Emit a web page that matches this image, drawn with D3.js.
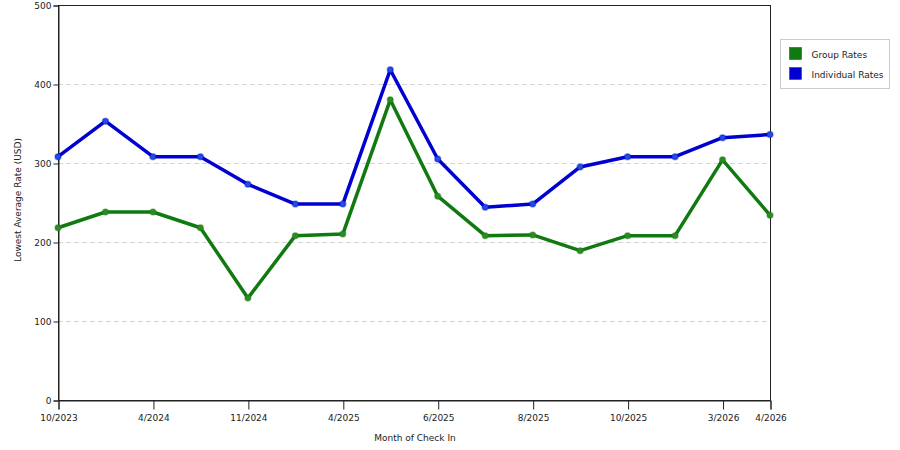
<!DOCTYPE html>
<html>
<head>
<meta charset="utf-8">
<script src="https://cdn.jsdelivr.net/npm/d3@7"></script>
<style>
  body { margin: 0; background: #fff; }
  text { font-family: "DejaVu Sans", Verdana, sans-serif; font-size: 9px; fill: #222; }
</style>
</head>
<body>
<svg id="chart" width="900" height="450"></svg>
<script>
// one entry per month on the x axis, blank ones carry no tick label
var months = ["10/2023", "", "4/2024", "", "11/2024", "", "4/2025", "", "6/2025", "", "8/2025", "", "10/2025", "", "3/2026", "4/2026"];
var groupRates = [218, 238, 238, 218, 129, 208, 210, 380, 258, 208, 209, 189, 208, 208, 304, 234];
var individualRates = [308, 353, 308, 308, 273, 248, 248, 418, 305, 244, 248, 295, 308, 308, 332, 336];
var yTicks = [0, 100, 200, 300, 400, 500];
var seriesNames = ["Group Rates", "Individual Rates"];
var seriesColors = ["#107a10", "#0000d0"];
var markerColors = ["#2f8a24", "#1f4ee0"];

var svg = d3.select("#chart");
var plotLeft = 58, plotRight = 770, plotTop = 5, plotBottom = 400;

var x = d3.scalePoint()
  .domain(d3.range(months.length))
  .range([plotLeft, plotRight]);

var y = d3.scaleLinear()
  .domain([0, 500])
  .range([plotBottom, plotTop]);

// dashed grid
svg.append("g").selectAll("line")
  .data(yTicks.filter(function(d) { return d > 0 && d < 500; }))
  .enter().append("line")
    .attr("x1", plotLeft).attr("x2", plotRight)
    .attr("y1", function(d) { return y(d) + 0.5; })
    .attr("y2", function(d) { return y(d) + 0.5; })
    .attr("stroke", "#d4d4d4")
    .attr("stroke-dasharray", "5,3");

// frame
svg.append("rect")
  .attr("x", plotLeft + 0.5).attr("y", plotTop + 0.5)
  .attr("width", plotRight - plotLeft).attr("height", plotBottom - plotTop)
  .attr("fill", "none").attr("stroke", "#222");

var yAxis = svg.append("g")
  .attr("transform", "translate(" + (plotLeft + 0.5) + ",0.5)")
  .call(d3.axisLeft(y).tickValues(yTicks).tickSize(5).tickPadding(2));

var labelled = d3.range(months.length).filter(function(i) { return months[i] !== ""; });
var xAxis = svg.append("g")
  .attr("transform", "translate(0.5," + (plotBottom + 0.5) + ")")
  .call(d3.axisBottom(x).tickValues(labelled).tickSize(9).tickPadding(5)
    .tickFormat(function(i) { return months[i]; }));

[yAxis, xAxis].forEach(function(a) {
  a.select(".domain").attr("stroke", "#222");
  a.selectAll(".tick line").attr("stroke", "#222");
  a.selectAll("text").attr("font-family", null).attr("font-size", null).attr("fill", "#222");
});

svg.append("text")
  .attr("x", 415).attr("y", 441)
  .attr("text-anchor", "middle")
  .text("Month of Check In");

svg.append("text")
  .attr("transform", "translate(21,200) rotate(-90)")
  .attr("text-anchor", "middle")
  .text("Lowest Average Rate (USD)");

var series = [groupRates, individualRates];

var line = d3.line()
  .x(function(d, i) { return x(i); })
  .y(function(d) { return y(d); });

series.forEach(function(values, s) {
  svg.append("path")
    .datum(values)
    .attr("d", line)
    .attr("fill", "none")
    .attr("stroke", seriesColors[s])
    .attr("stroke-width", 3.5)
    .attr("stroke-linejoin", "round");

  svg.append("g").selectAll("circle")
    .data(values)
    .enter().append("circle")
      .attr("cx", function(d, i) { return x(i); })
      .attr("cy", function(d) { return y(d); })
      .attr("r", 3)
      .attr("fill", markerColors[s])
      .attr("stroke", seriesColors[s])
      .attr("stroke-opacity", 0.35)
      .attr("stroke-width", 1.5);
});

// legend
var legend = svg.append("g").attr("transform", "translate(780.5,39.5)");
legend.append("rect")
  .attr("width", 109).attr("height", 49)
  .attr("fill", "#fff").attr("stroke", "#ccc");

var item = legend.selectAll("g.item")
  .data(seriesNames)
  .enter().append("g")
    .attr("class", "item")
    .attr("transform", function(d, i) { return "translate(9," + (8 + i * 20) + ")"; });

item.append("rect")
  .attr("width", 12).attr("height", 12)
  .attr("fill", function(d, i) { return seriesColors[i]; })
  .attr("stroke", "#333").attr("stroke-width", 0.5);

item.append("text")
  .attr("x", 22).attr("y", 10)
  .text(function(d) { return d; });
</script>
</body>
</html>
